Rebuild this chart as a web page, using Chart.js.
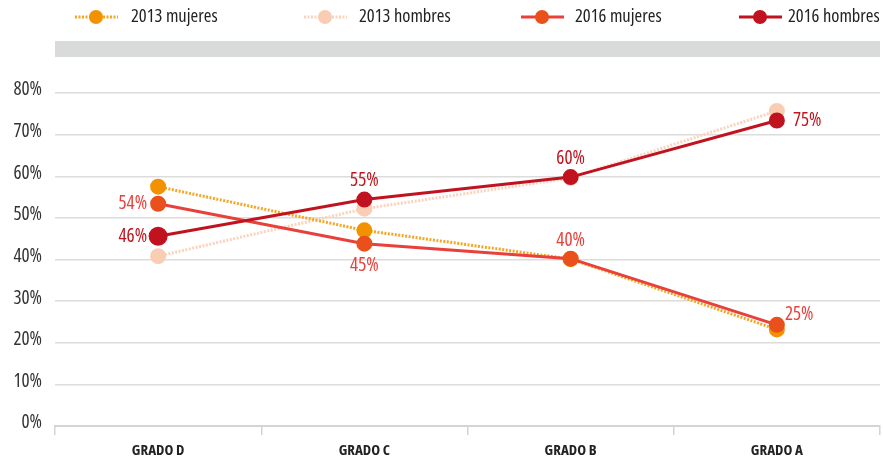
<!DOCTYPE html>
<html>
<head>
<meta charset="utf-8">
<script src="https://cdn.jsdelivr.net/npm/chart.js@4"></script>
<style>
  html, body { margin: 0; padding: 0; background: #fff; }
  #caja { position: relative; width: 883px; height: 459px; }
</style>
</head>
<body>
<div id="caja"><canvas id="grafico"></canvas></div>
<script>
// Datos
const grados = ['GRADO D', 'GRADO C', 'GRADO B', 'GRADO A'];
const mujeres2013 = [57.5, 47.0, 40.1, 23.2];
const hombres2013 = [40.8, 52.2, 59.6, 75.7];
const mujeres2016 = [53.4, 43.8, 40.2, 24.3];
const hombres2016 = [45.6, 54.4, 59.8, 73.4];
const etiquetasMujeres2016 = ['54%', '45%', '40%', '25%'];
const etiquetasHombres2016 = ['46%', '55%', '60%', '75%'];
const ticksY = [0, 10, 20, 30, 40, 50, 60, 70, 80];

const FUENTE = '"Open Sans", "Roboto", sans-serif';

// Banda gris superior y leyenda manual
const pluginDecoracion = {
    id: 'decoracion',
    beforeDraw(chart) {
        const ctx = chart.ctx;
        const area = chart.chartArea;
        ctx.save();
        ctx.fillStyle = '#d9dbda';
        ctx.fillRect(area.left, 41, area.right - area.left, 16);
        ctx.restore();
    },
    afterDraw(chart) {
        const ctx = chart.ctx;
        const inicios = [75, 304, 521, 739];
        const textos = [131, 359, 575, 788];
        const y = 17;
        ctx.save();
        chart.data.datasets.forEach((ds, i) => {
            const x0 = inicios[i];
            ctx.beginPath();
            ctx.strokeStyle = ds.borderColor;
            ctx.lineWidth = ds.borderWidth;
            ctx.setLineDash(ds.borderDash || []);
            ctx.moveTo(x0, y);
            ctx.lineTo(x0 + 43, y);
            ctx.stroke();
            ctx.setLineDash([]);
            ctx.beginPath();
            ctx.fillStyle = ds.pointBackgroundColor;
            ctx.arc(x0 + 21, y, 7, 0, Math.PI * 2);
            ctx.fill();
            ctx.fillStyle = '#222';
            ctx.font = 'condensed 18.5px ' + FUENTE;
            ctx.textAlign = 'left';
            ctx.textBaseline = 'middle';
            ctx.fillText(ds.label, textos[i], y);
        });
        ctx.restore();
    }
};

// Etiquetas de porcentaje junto a los puntos de 2016
const pluginEtiquetas = {
    id: 'etiquetas',
    afterDatasetsDraw(chart) {
        const ctx = chart.ctx;
        const grupos = [
            { indice: 2, textos: etiquetasMujeres2016, color: '#e8413c',
              pos: ['left', 'below', 'above', 'rightUp'] },
            { indice: 3, textos: etiquetasHombres2016, color: '#c0141f',
              pos: ['left', 'above', 'above', 'right'] }
        ];
        ctx.save();
        ctx.font = 'condensed 19px ' + FUENTE;
        grupos.forEach(g => {
            const meta = chart.getDatasetMeta(g.indice);
            ctx.fillStyle = g.color;
            meta.data.forEach((p, j) => {
                let x = p.x, y = p.y;
                const pos = g.pos[j];
                ctx.textBaseline = 'middle';
                if (pos === 'left') { ctx.textAlign = 'right'; x -= 11; }
                else if (pos === 'right') { ctx.textAlign = 'left'; x += 16; }
                else if (pos === 'rightUp') { ctx.textAlign = 'left'; x += 8; y -= 10; }
                else if (pos === 'above') { ctx.textAlign = 'center'; y -= 18.5; }
                else if (pos === 'below') { ctx.textAlign = 'center'; y += 22; }
                ctx.fillText(g.textos[j], x, y);
            });
        });
        ctx.restore();
    }
};

new Chart(document.getElementById('grafico'), {
    type: 'line',
    data: {
        labels: grados,
        datasets: [
            {
                label: '2013 mujeres',
                data: mujeres2013,
                borderColor: '#f5a623',
                borderWidth: 3,
                borderDash: [2, 1.5],
                pointBackgroundColor: '#f39200',
                pointBorderColor: '#f39200',
                pointRadius: 6.5,
                order: 2
            },
            {
                label: '2013 hombres',
                data: hombres2013,
                borderColor: '#fbd3bd',
                borderWidth: 3,
                borderDash: [2, 1.5],
                pointBackgroundColor: '#f9cdb3',
                pointBorderColor: '#f9cdb3',
                pointRadius: 6.5,
                order: 2
            },
            {
                label: '2016 mujeres',
                data: mujeres2016,
                borderColor: '#e8403a',
                borderWidth: 3,
                pointBackgroundColor: '#e9501c',
                pointBorderColor: '#e9501c',
                pointRadius: 6.5,
                order: 1
            },
            {
                label: '2016 hombres',
                data: hombres2016,
                borderColor: '#c1121f',
                borderWidth: 3,
                pointBackgroundColor: '#c1121f',
                pointBorderColor: '#c1121f',
                pointRadius: [8, 6.5, 6.5, 6.5],
                order: 0
            }
        ]
    },
    options: {
        responsive: true,
        maintainAspectRatio: false,
        animation: false,
        layout: { autoPadding: false, padding: { top: 93, right: 3, left: 0, bottom: 0 } },
        plugins: {
            legend: { display: false },
            tooltip: { enabled: false }
        },
        elements: { line: { tension: 0 }, point: { borderWidth: 0 } },
        scales: {
            x: {
                offset: true,
                grid: {
                    offset: true,
                    drawOnChartArea: false,
                    drawTicks: true,
                    tickLength: 9,
                    color: '#d4d4d4',
                    lineWidth: 1.5
                },
                border: { display: true, color: '#d4d4d4', width: 2 },
                ticks: {
                    color: '#222',
                    padding: 7,
                    // el "peso" lleva también la anchura condensada
                    font: { family: FUENTE, size: 15, weight: 'condensed bold' }
                },
                afterFit(scale) {
                    scale.height = 33;
                    scale.paddingLeft = 0;
                    scale.paddingRight = 0;
                }
            },
            y: {
                min: 0,
                max: 80,
                afterBuildTicks(scale) { scale.ticks = ticksY.map(v => ({ value: v })); },
                grid: { color: '#dcdcdc', lineWidth: 1.5, drawTicks: false },
                border: { display: false },
                ticks: {
                    color: '#333',
                    padding: 13,
                    labelOffset: -3,
                    font: { family: FUENTE, size: 19, weight: 'condensed' },
                    callback: v => v + '%'
                },
                afterFit(scale) { scale.width = 55; }
            }
        }
    },
    plugins: [pluginDecoracion, pluginEtiquetas]
});
</script>
</body>
</html>
